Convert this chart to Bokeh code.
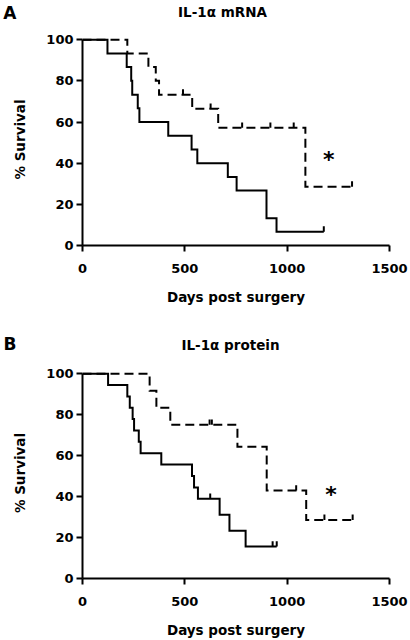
from bokeh.plotting import figure
from bokeh.layouts import column
from bokeh.models import FixedTicker, Range1d
from bokeh.core.properties import value
from bokeh.embed import file_html
from bokeh.resources import INLINE
import numpy as np

# ---------------- data ----------------
x_ticks = [0, 500, 1000, 1500]
y_ticks = [0, 20, 40, 60, 80, 100]

# Panel A: IL-1α mRNA
a_letter = "A"
a_title = "IL-1α mRNA"
a_solid_days = [0, 122, 216, 238, 243, 270, 278, 419, 533, 561, 710, 753, 899, 948]
a_solid_surv = [100, 93.3, 86.7, 80.0, 73.3, 66.7, 60.0, 53.3, 46.7, 40.0, 33.3, 26.7, 13.3, 6.7]
a_solid_end = 1179
a_solid_censor = [1179]

a_dash_days = [0, 219, 322, 358, 374, 536, 663, 1089]
a_dash_surv = [100, 93.3, 86.7, 80.0, 73.3, 66.4, 57.2, 28.6]
a_dash_end = 1317
a_dash_censor = [491, 626, 780, 918, 1032, 1317]

# Panel B: IL-1α protein
b_letter = "B"
b_title = "IL-1α protein"
b_solid_days = [0, 125, 219, 231, 245, 252, 275, 284, 385, 535, 545, 564, 670, 718, 797]
b_solid_surv = [100, 94.4, 88.9, 83.3, 77.8, 72.2, 66.7, 61.1, 55.6, 50.0, 44.4, 38.9, 31.1, 23.3, 15.6]
b_solid_end = 949
b_solid_censor = [624, 929, 949]

b_dash_days = [0, 328, 361, 429, 757, 900, 1093]
b_dash_surv = [100, 91.7, 83.3, 75.0, 64.3, 42.9, 28.6]
b_dash_end = 1320
b_dash_censor = [621, 632, 1044, 1182, 1320]

# significance marker positions (days, % survival) for each panel
a_star = (1203, 41.7)
b_star = (1214, 41.0)

FONT = "DejaVu Sans"
YMAX = 103
L, W, R = 82, 307, 21   # left border, frame width, right border (shared by all figures)


def surv_at(days, surv, t):
    i = int(np.searchsorted(np.asarray(days), t, side="right")) - 1
    return surv[i]


def make_header(letter, title, height, letter_y, title_xy):
    h = figure(frame_width=W, frame_height=height,
               min_border_left=L, min_border_right=R, min_border_top=0, min_border_bottom=0,
               x_range=Range1d(L, L + W), y_range=Range1d(height, 0),
               x_axis_type=None,
               output_backend="svg", toolbar_location=None, title=None,
               background_fill_color="white", border_fill_color="white")
    h.outline_line_color = None
    h.grid.visible = False
    ax = h.yaxis[0]
    ax.ticker = FixedTicker(ticks=[letter_y])
    ax.major_label_overrides = {letter_y: letter}
    ax.axis_line_color = None
    ax.major_tick_line_color = None
    ax.minor_tick_line_color = None
    ax.major_tick_in = 0
    ax.major_tick_out = 0
    ax.major_label_standoff = L - 16
    ax.major_label_text_font = FONT
    ax.major_label_text_font_style = "bold"
    ax.major_label_text_font_size = "17px"
    ax.major_label_text_color = "black"
    h.text(x=[title_xy[0]], y=[title_xy[1]], text=[title], text_font=value(FONT),
           text_font_style="bold", text_font_size="13.5px", text_align="center",
           text_baseline="middle", text_color="black")
    return h


def make_panel(curves, star, H, B):
    p = figure(frame_width=W, frame_height=H,
               min_border_left=L, min_border_top=0, min_border_right=R, min_border_bottom=B,
               x_range=Range1d(0, 1500), y_range=Range1d(0, YMAX),
               output_backend="svg", toolbar_location=None, title=None,
               background_fill_color="white", border_fill_color="white")
    p.outline_line_color = None
    p.grid.visible = False

    for ax in (p.xaxis[0], p.yaxis[0]):
        ax.axis_line_width = 2
        ax.axis_line_color = "black"
        ax.major_tick_line_width = 2
        ax.major_tick_line_color = "black"
        ax.major_tick_in = 0
        ax.major_tick_out = 6
        ax.minor_tick_line_color = None
        ax.major_label_text_font = FONT
        ax.major_label_text_font_style = "bold"
        ax.major_label_text_font_size = "13px"
        ax.major_label_text_color = "black"
        ax.axis_label_text_font = FONT
        ax.axis_label_text_font_style = "bold"
        ax.axis_label_text_font_size = "13.5px"
        ax.axis_label_text_color = "black"
    p.xaxis.ticker = FixedTicker(ticks=x_ticks)
    p.yaxis.ticker = FixedTicker(ticks=y_ticks)
    p.yaxis.bounds = (0, 100)
    p.xaxis.axis_label = "Days post surgery"
    p.yaxis.axis_label = "% Survival"
    p.xaxis.major_label_standoff = 12
    p.xaxis.axis_label_standoff = 13
    p.yaxis.major_label_standoff = 3
    p.yaxis.axis_label_standoff = 15

    for days, surv, end, cens, dash in curves:
        xs = list(days) + [end]
        ys = list(surv) + [surv[-1]]
        p.step(xs, ys, mode="after", line_width=2, line_color="black",
               line_dash=dash, line_join="miter")
        cy = [surv_at(days, surv, c) for c in cens]
        p.segment(x0=cens, y0=cy, x1=cens, y1=[v + 2.6 for v in cy],
                  line_width=2, line_color="black")

    p.text(x=[star[0]], y=[star[1]], text=["*"], text_font=value(FONT),
           text_font_style="bold", text_font_size="22px", text_align="center",
           text_baseline="middle", text_color="black")
    return p


hA = make_header(a_letter, a_title, 33, 12, (222, 11))
pA = make_panel([(a_solid_days, a_solid_surv, a_solid_end, a_solid_censor, "solid"),
                 (a_dash_days, a_dash_surv, a_dash_end, a_dash_censor, "9 5")],
                a_star, 212, 73)
hB = make_header(b_letter, b_title, 49, 25, (230, 26))
pB = make_panel([(b_solid_days, b_solid_surv, b_solid_end, b_solid_censor, "solid"),
                 (b_dash_days, b_dash_surv, b_dash_end, b_dash_censor, "9 5")],
                b_star, 211, 62)

layout = column(hA, pA, hB, pB, spacing=0)
open("out.html", "w").write(file_html(layout, INLINE))
